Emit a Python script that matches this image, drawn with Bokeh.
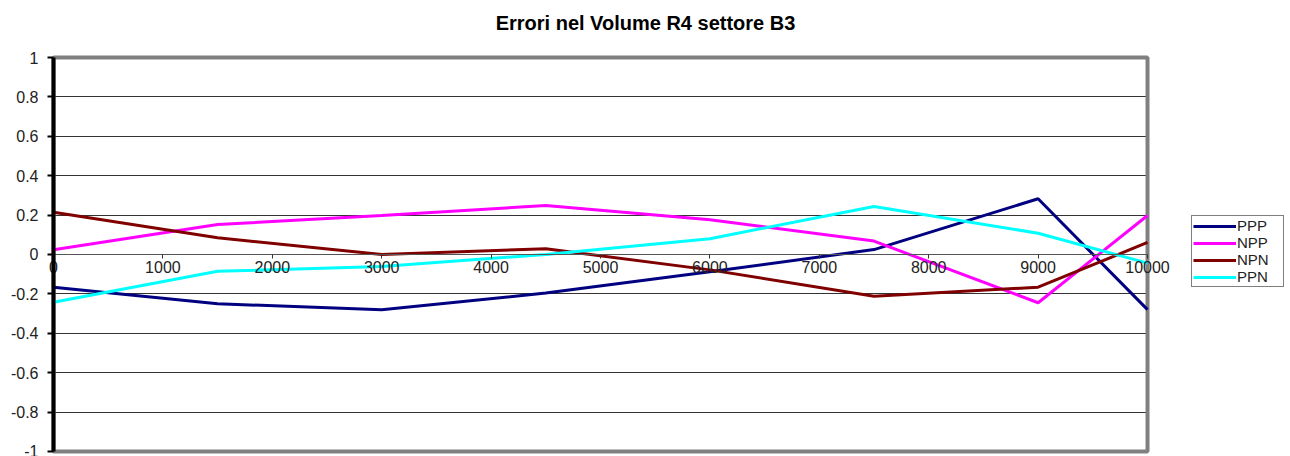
from bokeh.plotting import figure
from bokeh.models import LinearAxis, FixedTicker, Legend, LegendItem, BoxAnnotation, Grid
from bokeh.embed import file_html
from bokeh.resources import INLINE

title_text = "Errori nel Volume R4 settore B3"
x_vals = [0, 1500, 3000, 4500, 6000, 7500, 9000, 10000]
series_names = ["PPP", "NPP", "NPN", "PPN"]
ppp = [-0.166, -0.25, -0.28, -0.196, -0.088, 0.025, 0.283, -0.28]
npp = [0.024, 0.152, 0.198, 0.249, 0.176, 0.068, -0.245, 0.198]
npn = [0.215, 0.085, 0.0, 0.029, -0.078, -0.212, -0.166, 0.061]
ppn = [-0.242, -0.085, -0.061, 0.0, 0.080, 0.244, 0.108, -0.044]
series_colors = ["#000080", "#FF00FF", "#800000", "#00FFFF"]
y_ticks = [-1, -0.8, -0.6, -0.4, -0.2, 0, 0.2, 0.4, 0.6, 0.8, 1]
y_tick_labels = ["-1", "-0.8", "-0.6", "-0.4", "-0.2", "0", "0.2", "0.4", "0.6", "0.8", "1"]
x_ticks = [0, 1000, 2000, 3000, 4000, 5000, 6000, 7000, 8000, 9000, 10000]
x_min, x_max = 0, 10000
y_min, y_max = -1, 1

FONT = "Liberation Sans"

# frame spans the whole canvas width; data area 0..10000 maps to px 53..1147
p = figure(width=1290, height=456, x_range=(-484.5, 11307), y_range=(-1.0254, 1.0863),
           output_backend="svg", toolbar_location=None,
           min_border_left=0, min_border_right=0, min_border_top=40, min_border_bottom=0)
p.title.text = title_text
p.title.align = "center"
p.title.text_font = FONT
p.title.text_font_size = "20px"
p.title.text_font_style = "bold"
p.title.text_color = "#000000"
p.title.standoff = 14

p.outline_line_color = None
p.background_fill_color = "white"
p.border_fill_color = "white"

p.xgrid.visible = False
p.ygrid.ticker = FixedTicker(ticks=y_ticks)
p.ygrid.grid_line_color = "#333333"
p.ygrid.grid_line_width = 1
use_cross = "cross_bounds" in Grid.properties()
if use_cross:
    p.ygrid.cross_bounds = (x_min, x_max)
else:
    p.ygrid.visible = False

p.xaxis.visible = False
p.yaxis.visible = False

border = BoxAnnotation(left=x_min, right=x_max, bottom=y_min, top=y_max,
                       fill_alpha=0, line_color="#808080", line_alpha=1.0,
                       line_width=4, level="underlay")
p.add_layout(border)

if not use_cross:
    gridaxis = LinearAxis(fixed_location=0, ticker=FixedTicker(ticks=y_ticks), bounds=(y_min, y_max))
    gridaxis.axis_line_color = None
    gridaxis.major_label_text_alpha = 0
    gridaxis.major_tick_in = 1094
    gridaxis.major_tick_out = 0
    gridaxis.major_tick_line_color = "#333333"
    gridaxis.major_tick_line_width = 1
    gridaxis.minor_tick_line_color = None
    p.add_layout(gridaxis, "left")

xa = LinearAxis(fixed_location=0, ticker=FixedTicker(ticks=x_ticks), bounds=(x_min, x_max))
xa.axis_line_color = "#555555"
xa.axis_line_width = 1
xa.major_tick_in = 0
xa.major_tick_out = 4
xa.major_tick_line_color = "#333333"
xa.minor_tick_line_color = None
xa.major_label_text_font = FONT
xa.major_label_text_font_size = "16px"
xa.major_label_text_color = "#222222"
xa.major_label_standoff = 3
p.add_layout(xa, "below")

ya = LinearAxis(fixed_location=0, ticker=FixedTicker(ticks=y_ticks), bounds=(y_min, y_max))
ya.major_label_overrides = {t: l for t, l in zip(y_ticks, y_tick_labels)}
ya.axis_line_color = "black"
ya.axis_line_width = 4
ya.major_tick_in = 0
ya.major_tick_out = 6
ya.major_tick_line_width = 2
ya.major_tick_line_color = "black"
ya.minor_tick_line_color = None
ya.major_label_text_font = FONT
ya.major_label_text_font_size = "16px"
ya.major_label_text_color = "#222222"
ya.major_label_standoff = 9
p.add_layout(ya, "left")

items = []
for name, ys, c in zip(series_names, [ppp, npp, npn, ppn], series_colors):
    r = p.line(x_vals, ys, line_color=c, line_width=3)
    items.append(LegendItem(label=name, renderers=[r]))

legend = Legend(items=items, location=(1191, 169))
legend.border_line_color = "black"
legend.border_line_width = 1
legend.label_text_font = FONT
legend.label_text_font_size = "15px"
legend.label_text_color = "#222222"
legend.glyph_width = 43
legend.glyph_height = 14
legend.label_height = 14
legend.label_width = 45
legend.label_standoff = 1
legend.spacing = 0
legend.padding = 1
legend.margin = 0
legend.background_fill_color = "white"
p.add_layout(legend)

open("out.html", "w").write(file_html(p, INLINE))
